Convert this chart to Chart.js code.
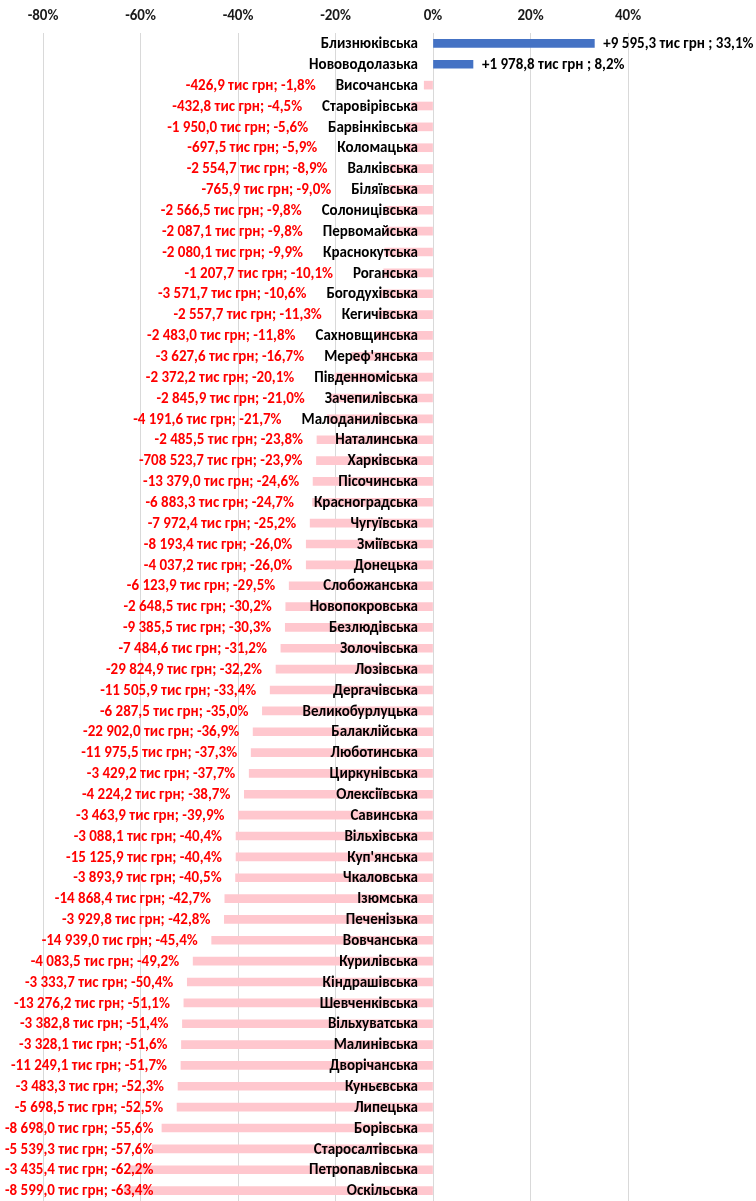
<!DOCTYPE html>
<html>
<head>
<meta charset="utf-8">
<script src="https://cdn.jsdelivr.net/npm/chart.js@4/dist/chart.umd.min.js"></script>
<style>
  html, body { margin: 0; padding: 0; background: #fff; }
</style>
</head>
<body>
<canvas id="chart" width="756" height="1201"></canvas>
<script>
// Communities, change vs previous year
const categories = [
  'Близнюківська', 'Нововодолазька', 'Височанська', 'Старовірівська', 'Барвінківська',
  'Коломацька', 'Валківська', 'Біляївська', 'Солоницівська', 'Первомайська',
  'Краснокутська', 'Роганська', 'Богодухівська', 'Кегичівська', 'Сахновщинська',
  "Мереф'янська", 'Південноміська', 'Зачепилівська', 'Малоданилівська', 'Наталинська',
  'Харківська', 'Пісочинська', 'Красноградська', 'Чугуївська', 'Зміївська',
  'Донецька', 'Слобожанська', 'Новопокровська', 'Безлюдівська', 'Золочівська',
  'Лозівська', 'Дергачівська', 'Великобурлуцька', 'Балаклійська', 'Люботинська',
  'Циркунівська', 'Олексіївська', 'Савинська', 'Вільхівська', "Куп'янська",
  'Чкаловська', 'Ізюмська', 'Печенізька', 'Вовчанська', 'Курилівська',
  'Кіндрашівська', 'Шевченківська', 'Вільхуватська', 'Малинівська', 'Дворічанська',
  'Куньєвська', 'Липецька', 'Борівська', 'Старосалтівська', 'Петропавлівська',
  'Оскільська'
];

// change, %
const changePct = [
  33.1, 8.2, -1.8, -4.5, -5.6,
  -5.9, -8.9, -9.0, -9.8, -9.8,
  -9.9, -10.1, -10.6, -11.3, -11.8,
  -16.7, -20.1, -21.0, -21.7, -23.8,
  -23.9, -24.6, -24.7, -25.2, -26.0,
  -26.0, -29.5, -30.2, -30.3, -31.2,
  -32.2, -33.4, -35.0, -36.9, -37.3,
  -37.7, -38.7, -39.9, -40.4, -40.4,
  -40.5, -42.7, -42.8, -45.4, -49.2,
  -50.4, -51.1, -51.4, -51.6, -51.7,
  -52.3, -52.5, -55.6, -57.6, -62.2,
  -63.4
];

// change, тис грн
const changeAmount = [
  9595.3, 1978.8, -426.9, -432.8, -1950.0,
  -697.5, -2554.7, -765.9, -2566.5, -2087.1,
  -2080.1, -1207.7, -3571.7, -2557.7, -2483.0,
  -3627.6, -2372.2, -2845.9, -4191.6, -2485.5,
  -708523.7, -13379.0, -6883.3, -7972.4, -8193.4,
  -4037.2, -6123.9, -2648.5, -9385.5, -7484.6,
  -29824.9, -11505.9, -6287.5, -22902.0, -11975.5,
  -3429.2, -4224.2, -3463.9, -3088.1, -15125.9,
  -3893.9, -14868.4, -3929.8, -14939.0, -4083.5,
  -3333.7, -13276.2, -3382.8, -3328.1, -11249.1,
  -3483.3, -5698.5, -8698.0, -5539.3, -3435.4,
  -8599.0
];

const xMin = -80;
const xMax = 40;
const xStep = 20;

const FONT = 'Carlito, Calibri, Lato, sans-serif';

function fmtNum(v) {
  const parts = Math.abs(v).toFixed(1).split('.');
  return parts[0].replace(/\B(?=(\d{3})+(?!\d))/g, ' ') + ',' + parts[1];
}

function valueLabel(i) {
  const pct = Math.abs(changePct[i]).toFixed(1).replace('.', ',');
  if (changePct[i] >= 0) return '+' + fmtNum(changeAmount[i]) + ' тис грн ; ' + pct + '%';
  return '-' + fmtNum(changeAmount[i]) + ' тис грн; -' + pct + '%';
}

// draws names and value labels next to the bars
const labelPlugin = {
  id: 'barLabels',
  afterDatasetsDraw(chart) {
    const ctx = chart.ctx;
    const xs = chart.scales.x;
    const ys = chart.scales.y;
    const zero = xs.getPixelForValue(0);
    const nameRight = zero - 15;
    ctx.save();
    ctx.font = 'bold 15px ' + FONT;
    ctx.textBaseline = 'middle';
    categories.forEach((name, i) => {
      const y = ys.getPixelForValue(i) + 1;
      const end = xs.getPixelForValue(changePct[i]);
      ctx.fillStyle = '#000';
      ctx.textAlign = 'right';
      ctx.fillText(name, nameRight, y);
      const txt = valueLabel(i);
      if (changePct[i] >= 0) {
        ctx.textAlign = 'left';
        ctx.fillText(txt, end + 9, y);
      } else {
        const nameLeft = nameRight - ctx.measureText(name).width;
        const w = ctx.measureText(txt).width;
        // keep label inside the canvas, like the original does
        const left = Math.max(5, Math.min(end - 14, nameLeft - 20) - w);
        ctx.fillStyle = '#ff0000';
        ctx.textAlign = 'left';
        ctx.fillText(txt, left, y);
      }
    });
    ctx.restore();
  }
};

new Chart(document.getElementById('chart'), {
  type: 'bar',
  data: {
    labels: categories,
    datasets: [{
      data: changePct,
      backgroundColor: changePct.map(v => v >= 0 ? '#4472C4' : '#FFC7CE'),
      barThickness: 8
    }]
  },
  options: {
    indexAxis: 'y',
    responsive: false,
    devicePixelRatio: 1,
    animation: false,
    layout: { padding: { left: 43, right: 128, top: 0, bottom: 0 } },
    plugins: {
      legend: { display: false },
      tooltip: { enabled: false }
    },
    scales: {
      x: {
        position: 'top',
        min: xMin,
        max: xMax,
        afterFit(scale) { scale.height = 33; },
        ticks: {
          stepSize: xStep,
          padding: 8,
          color: '#1a1a1a',
          font: { family: FONT, size: 15, weight: 'bold' },
          callback: v => v + '%'
        },
        grid: { color: '#d9d9d9', drawTicks: false },
        border: { display: false }
      },
      y: {
        display: false
      }
    }
  },
  plugins: [labelPlugin]
});
</script>
</body>
</html>
